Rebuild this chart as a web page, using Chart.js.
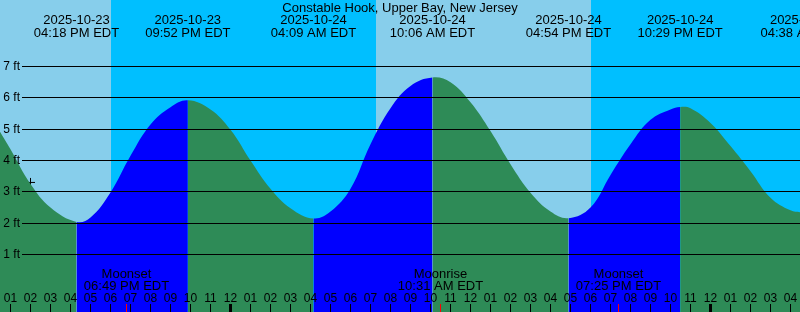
<!DOCTYPE html>
<html><head><meta charset="utf-8">
<script src="https://cdn.jsdelivr.net/npm/chart.js@4"></script>
<style>html,body{margin:0;padding:0;background:#fff;overflow:hidden}canvas{display:block}</style>
</head><body>
<canvas id="c" width="800" height="312"></canvas>
<script>
const TITLE = 'Constable Hook, Upper Bay, New Jersey';

// time axis: hours since 2025-10-23 01:00 PM EDT
const hourMin = -0.525;
const hourMax = 39.475;

// water level curve (feet)
const curveHours = [-0.525, 0, 1, 2, 3.3, 4, 5, 6, 7, 8, 8.867, 10, 11, 12, 13, 14, 15.15,
  16, 17, 18, 19, 20, 21.1, 22, 23, 24, 25, 26, 27, 27.9, 29, 30, 31, 32, 33, 33.483,
  34, 35, 36, 37, 38, 39, 39.633];
const curveFeet = [4.92, 4.36, 3.25, 2.50, 2.04, 2.18, 2.98, 4.15, 5.15, 5.70, 5.92, 5.63, 4.98, 4.00, 3.10, 2.48, 2.15,
  2.37, 3.10, 4.52, 5.67, 6.38, 6.65, 6.50, 5.86, 4.94, 3.88, 2.97, 2.37, 2.16, 2.50, 3.54, 4.52, 5.30, 5.63, 5.71,
  5.67, 5.20, 4.46, 3.66, 2.81, 2.41, 2.34];

// high / low tides
const tideHours = [3.3, 8.867, 15.15, 21.1, 27.9, 33.483, 39.633];
const tideTypes = ['L', 'H', 'L', 'H', 'L', 'H', 'L'];
const tideDates = ['2025-10-23', '2025-10-23', '2025-10-24', '2025-10-24', '2025-10-24', '2025-10-24', '2025-10-25'];
const tideClock = ['04:18 PM EDT', '09:52 PM EDT', '04:09 AM EDT', '10:06 AM EDT', '04:54 PM EDT', '10:29 PM EDT', '04:38 AM EDT'];

// night periods
const nightStart = [5.025, 29.025];
const nightEnd = [18.275, 39.475];

// moon events
const moonHours = [5.817, 21.517, 30.417];
const moonKinds = ['Moonset', 'Moonrise', 'Moonset'];
const moonClock = ['06:49 PM EDT', '10:31 AM EDT', '07:25 PM EDT'];

// current time marker
const nowHour = 1.0;
const nowFeet = 3.30;

// axis ticks
const feetTicks = [1, 2, 3, 4, 5, 6, 7];
const feetLabels = ['1 ft', '2 ft', '3 ft', '4 ft', '5 ft', '6 ft', '7 ft'];
const hourTicks = Array.from({length: 40}, (_, i) => i);
const hourLabels = ['01','02','03','04','05','06','07','08','09','10','11','12',
  '01','02','03','04','05','06','07','08','09','10','11','12',
  '01','02','03','04','05','06','07','08','09','10','11','12',
  '01','02','03','04'];
const midnightHours = [11, 35];

const DAY = '#87CEEB', NIGHT = '#00BFFF', RISING = '#0000FF', FALLING = '#2E8B57';
const FONT = "'Liberation Sans', Arial, sans-serif";

function phaseColor(t) {
  let idx = -1;
  for (let i = 0; i < tideHours.length; i++) if (tideHours[i] <= t) idx = i;
  if (idx < 0) return tideTypes[0] === 'L' ? FALLING : RISING;
  return tideTypes[idx] === 'L' ? RISING : FALLING;
}

const tidePlugin = {
  id: 'tide',
  beforeDraw(chart) {
    const {ctx, chartArea: a, scales: {x}} = chart;
    ctx.save();
    ctx.fillStyle = DAY;
    ctx.fillRect(a.left, a.top, a.width, a.height);
    ctx.fillStyle = NIGHT;
    for (let i = 0; i < nightStart.length; i++) {
      const x0 = Math.round(x.getPixelForValue(nightStart[i]));
      const x1 = Math.round(x.getPixelForValue(nightEnd[i]));
      ctx.fillRect(x0, a.top, x1 - x0, a.height);
    }
    ctx.restore();
  },
  afterDatasetsDraw(chart) {
    const {ctx, chartArea: a, scales: {x, y}} = chart;
    ctx.save();
    ctx.fillStyle = '#000';
    ctx.font = '12px ' + FONT;
    ctx.textAlign = 'right';
    ctx.textBaseline = 'alphabetic';
    feetTicks.forEach((v, i) => {
      const py = Math.floor(y.getPixelForValue(v));
      ctx.fillRect(22, py, a.right - 22, 1);
      ctx.fillText(feetLabels[i], 20, py + 4);
    });
    ctx.textAlign = 'center';
    hourTicks.forEach((h, i) => {
      const px = Math.floor(x.getPixelForValue(h));
      if (midnightHours.includes(h)) ctx.fillRect(px - 1, 304, 3, 8);
      else ctx.fillRect(px, 304, 1, 8);
      ctx.fillText(hourLabels[i], px + 0.5, 302);
    });
    ctx.font = '13px ' + FONT;
    moonHours.forEach((h, i) => {
      const px = Math.floor(x.getPixelForValue(h));
      ctx.fillStyle = '#FF0000';
      ctx.fillRect(px, 304, 1, 8);
      ctx.fillStyle = '#000';
      ctx.fillText(moonKinds[i], px + 0.5, 278);
      ctx.fillText(moonClock[i], px + 0.5, 290);
    });
    tideHours.forEach((h, i) => {
      const px = x.getPixelForValue(h);
      ctx.fillText(tideDates[i], px, 24);
      ctx.fillText(tideClock[i], px, 37);
    });
    ctx.fillText(TITLE, (a.left + a.right) / 2, 12);
    ctx.restore();
  }
};

new Chart(document.getElementById('c'), {
  type: 'line',
  data: {
    datasets: [{
      data: curveHours.map((h, i) => ({x: h, y: curveFeet[i]})),
      fill: 'start',
      backgroundColor: FALLING,
      borderColor: 'rgba(0,0,0,0)',
      borderWidth: 0,
      pointRadius: 0,
      pointHoverRadius: 0,
      tension: 0.4,
      segment: {
        backgroundColor: c => phaseColor((c.p0.parsed.x + c.p1.parsed.x) / 2)
      }
    }, {
      data: [{x: nowHour, y: nowFeet}],
      showLine: false,
      fill: false,
      pointStyle: 'cross',
      pointRadius: 4.5,
      pointBorderWidth: 1,
      pointBorderColor: '#000',
      borderColor: '#000',
      borderWidth: 1
    }]
  },
  options: {
    responsive: false,
    devicePixelRatio: 1,
    animation: false,
    events: [],
    layout: {padding: 0, autoPadding: false},
    plugins: {legend: {display: false}, tooltip: {enabled: false}, title: {display: false}},
    scales: {
      x: {type: 'linear', min: hourMin, max: hourMax, display: false},
      y: {type: 'linear', min: -0.835, max: 9.123, display: false}
    }
  },
  plugins: [tidePlugin]
});
</script>
</body></html>
